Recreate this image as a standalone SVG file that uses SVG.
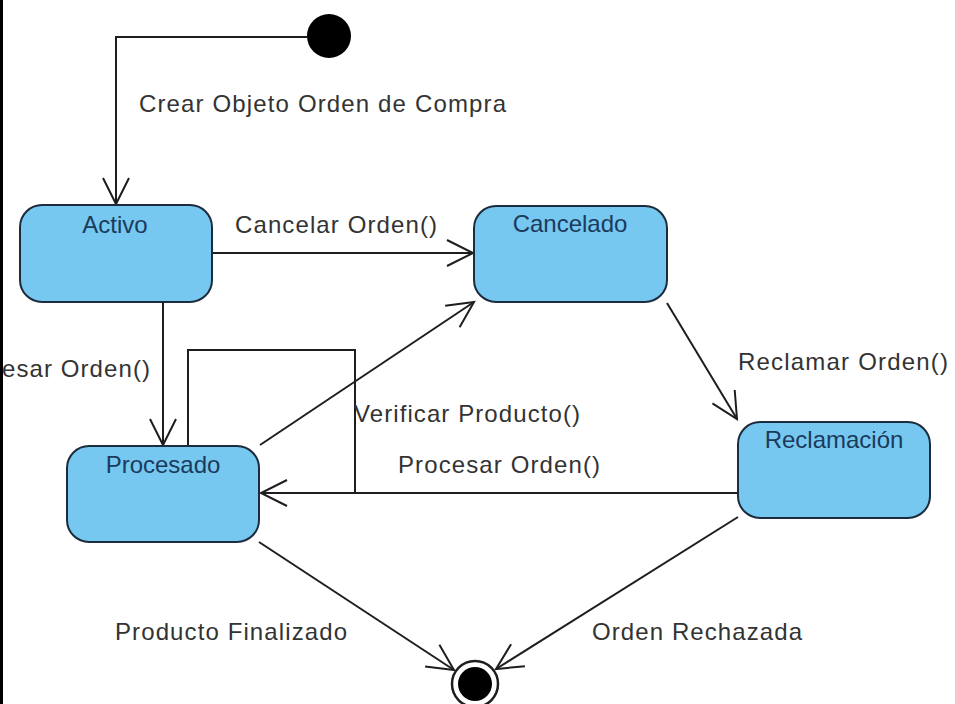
<svg xmlns="http://www.w3.org/2000/svg" width="955" height="704" viewBox="0 0 955 704">
<defs>
<marker id="arr" markerUnits="userSpaceOnUse" markerWidth="32" markerHeight="32" refX="27" refY="14" orient="auto">
<path d="M1,1 L27,14 L1,27" fill="none" stroke="#1e1e1e" stroke-width="2"/>
</marker>
<style>
.node{fill:#76c8f0;stroke:#1c2c3c;stroke-width:2}
.nl{font-family:"Liberation Sans",Arial,sans-serif;font-size:24px;fill:#1b3a5c;text-anchor:middle}
.lbl{font-family:"Liberation Sans",Arial,sans-serif;font-size:24px;fill:#333}
.c{fill:none;stroke:#1e1e1e;stroke-width:2}
</style>
</defs>
<rect x="0" y="0" width="955" height="704" fill="#fff"/>
<rect x="0" y="0" width="3" height="704" fill="#000"/>

<g id="connectors">
<path class="c" d="M307,37 L116,37 L116,204" marker-end="url(#arr)"/>
<path class="c" d="M212,253 L473,253" marker-end="url(#arr)"/>
<path class="c" d="M163,302 L163,445" marker-end="url(#arr)"/>
<path class="c" d="M260,445 L474,302" marker-end="url(#arr)"/>
<path class="c" d="M188,446 L188,350 L355,350 L355,493"/>
<path class="c" d="M738,493 L261,493" marker-end="url(#arr)"/>
<path class="c" d="M667,303 L737,419" marker-end="url(#arr)"/>
<path class="c" d="M259,542 L454,670" marker-end="url(#arr)"/>
<path class="c" d="M738,517 L496,669" marker-end="url(#arr)"/>
<text class="lbl" x="139" y="112" textLength="367">Crear Objeto Orden de Compra</text>
<text class="lbl" x="235" y="233" textLength="202">Cancelar Orden()</text>
<text class="lbl" x="150" y="377" text-anchor="end" textLength="148">esar Orden()</text>
<text class="lbl" x="354" y="422" textLength="226">Verificar Producto()</text>
<text class="lbl" x="398" y="473" textLength="202">Procesar Orden()</text>
<text class="lbl" x="738" y="370" textLength="210">Reclamar Orden()</text>
<text class="lbl" x="115" y="640" textLength="232">Producto Finalizado</text>
<text class="lbl" x="592" y="640" textLength="210">Orden Rechazada</text>
</g>

<g id="initial">
<circle cx="329" cy="36" r="22" fill="#000"/>
</g>
<g id="activo">
<rect class="node" x="20" y="205" width="192" height="97" rx="22"/>
<text class="nl" x="115" y="233">Activo</text>
</g>
<g id="cancelado">
<rect class="node" x="474" y="206" width="193" height="96" rx="22"/>
<text class="nl" x="570" y="232">Cancelado</text>
</g>
<g id="procesado">
<rect class="node" x="67" y="446" width="192" height="96" rx="22"/>
<text class="nl" x="163" y="473">Procesado</text>
</g>
<g id="reclamacion">
<rect class="node" x="738" y="422" width="192" height="96" rx="22"/>
<text class="nl" x="834" y="448">Reclamación</text>
</g>
<g id="final">
<circle cx="475" cy="684" r="23" fill="#fff" stroke="#1e1e1e" stroke-width="2.5"/>
<circle cx="475" cy="684" r="17" fill="#000"/>
</g>
</svg>
